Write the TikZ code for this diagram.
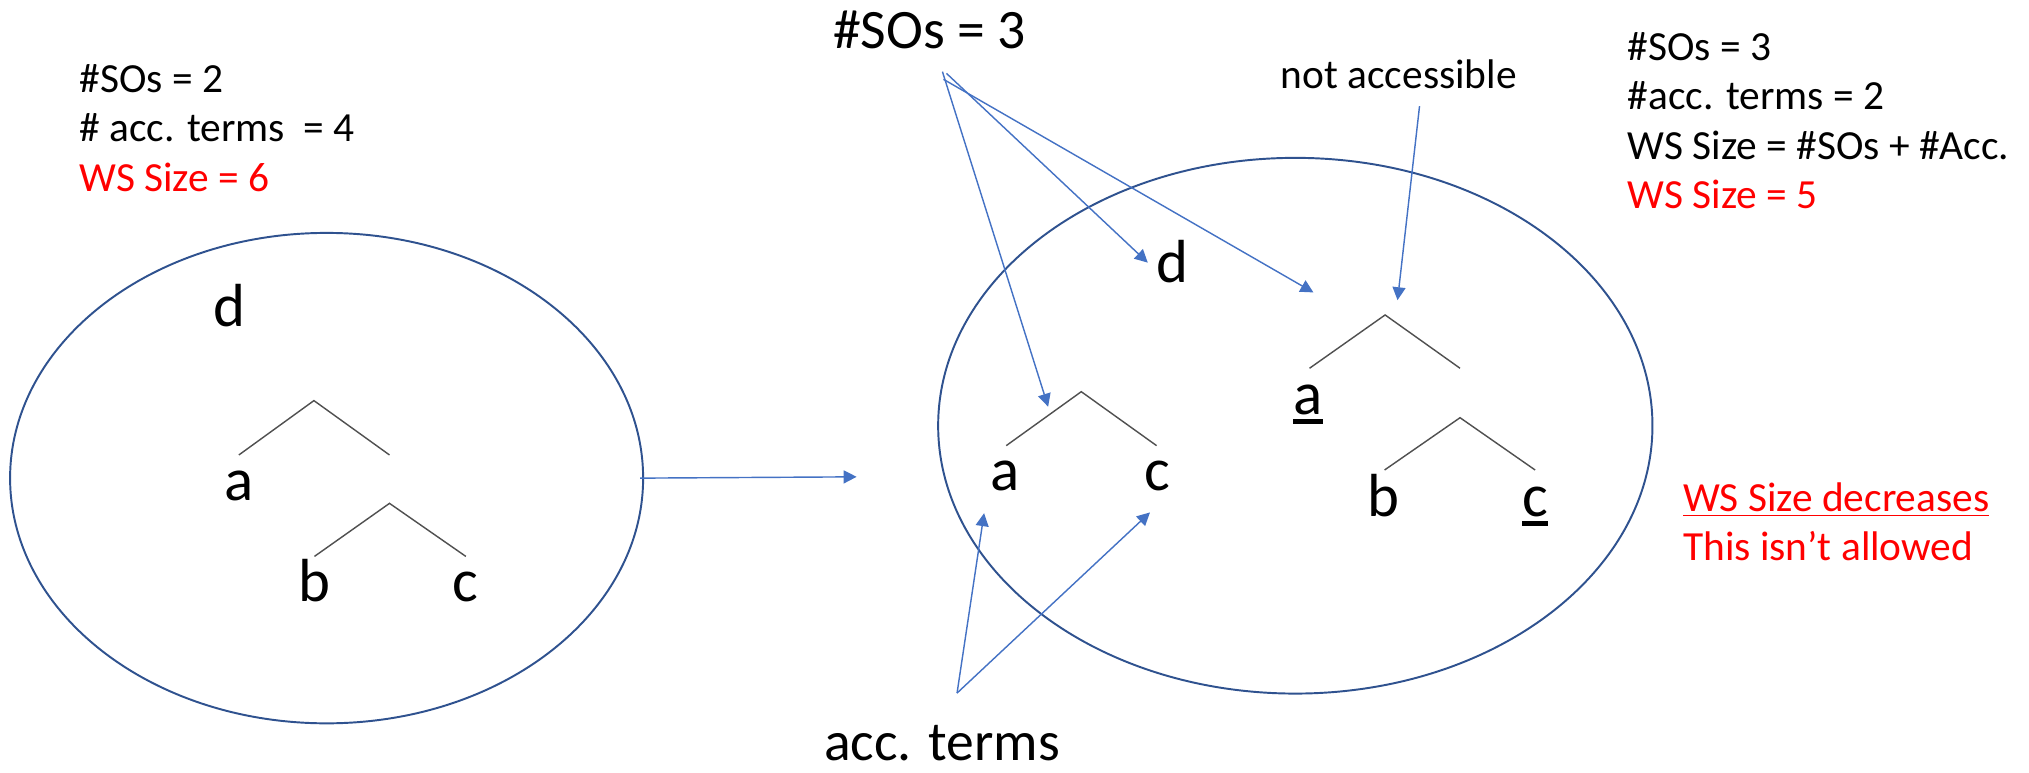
\documentclass[tikz,border=0pt]{standalone}
\usepackage{fontspec}
\setmainfont{Carlito}
\usetikzlibrary{arrows.meta,shapes.geometric}
\definecolor{ellblue}{HTML}{2F528F}
\definecolor{arrblue}{HTML}{4472C4}
\definecolor{treegray}{HTML}{505050}
\definecolor{wsred}{HTML}{FF0000}
\newcommand\thickul[1]{\setbox0\hbox{#1}\rlap{\rule[-0.16em]{\wd0}{0.085em}}\box0}
\begin{document}
\begin{tikzpicture}[x=0.5pt,y=-0.5pt,
  small/.style={font=\fontsize{16pt}{19pt}\selectfont, inner sep=0pt, anchor=base west},
  big/.style={font=\fontsize{21.5pt}{26pt}\selectfont, inner sep=0pt, anchor=base},
  letter/.style={font=\fontsize{23.5pt}{28pt}\selectfont, inner sep=0pt, anchor=base},
  wsell/.style={ellipse, draw=ellblue, line width=0.75pt, inner sep=0pt},
  branch/.style={draw=treegray, line width=0.55pt},
  arr/.style={draw=arrblue, line width=0.55pt, -{Triangle[length=5pt,width=5pt]}}]
\useasboundingbox (0,0) rectangle (1568,597);

% ---------- left working space ----------
\node[small] (l1) at (61,71.6) {\#SOs = 2};
\node[small] (l2) at (61,109.5) {\# acc. terms\ \ = 4};
\node[small, text=wsred] (l3) at (61,148) {WS Size = 6};

\node[wsell, minimum width=244.6pt, minimum height=189.5pt] (ellL) at (252.4,369.5) {};
\node[letter] (dL) at (177,252) {d};
\draw[branch] (184.6,351.6) -- (242.6,309.6) -- (301,351.6);
\node[letter] (aL) at (184.6,387) {a};
\draw[branch] (243,430) -- (301,389) -- (360,430);
\node[letter] (bL) at (243,465) {b};
\node[letter] (cL) at (360,465) {c};

% ---------- transition arrow ----------
\coordinate (mid) at (662,368.5);
\draw[arr] ([xshift=-1.5pt]ellL.east) -- (mid);

% ---------- right working space ----------
\node[wsell, minimum width=276pt, minimum height=207pt] (ellR) at (1001,329) {};
\node[letter] (dR) at (906,218) {d};
\draw[branch] (777.6,344.4) -- (835.6,302.7) -- (893.8,344.4);
\node[letter] (aR) at (776.4,379) {a};
\node[letter] (cR) at (894.7,379) {c};
\draw[branch] (1012,284.6) -- (1070.4,243.4) -- (1128.3,284.6);
\node[letter] (auR) at (1010.8,320) {\thickul{a}};
\draw[branch] (1070,363.2) -- (1128.3,322.8) -- (1186.3,363.2);
\node[letter] (bR) at (1069.3,399) {b};
\node[letter] (cuR) at (1186.3,399) {\thickul{c}};

% ---------- labels ----------
\node[big] (sos) at (718.5,37.4) {\#SOs = 3};
\node[big] (acc) at (728,587.5) {acc. terms};
\node[small, anchor=base] (na) at (1081,68.3) {not accessible};

\node[small] (r1) at (1257.6,46.9) {\#SOs = 3};
\node[small] (r2) at (1257.6,84.5) {\#acc. terms = 2};
\node[small] (r3) at (1257.6,123.1) {WS Size = \#SOs + \#Acc.};
\node[small, text=wsred] (r4) at (1257.6,161) {WS Size = 5};

\node[small, text=wsred] (dec) at (1300.4,395.4) {\underline{WS Size decreases}};
\node[small, text=wsred] (allow) at (1300.4,432.8) {This isn’t allowed};

% ---------- arrows ----------
\coordinate (s1) at (728.3,55.4);
\coordinate (s2) at (731.4,56.7);
\coordinate (s3) at (729.1,61.3);
\coordinate (t1) at (810,314.3);
\coordinate (t2) at (887,203);
\coordinate (t3) at (1015,226);
\draw[arr] (s1) -- (t1);
\draw[arr] (s2) -- (t2);
\draw[arr] (s3) -- (t3);

\coordinate (ns) at (1097,82);
\coordinate (nt) at (1080,232);
\draw[arr] (ns) -- (nt);

\coordinate (as) at (739.6,535.6);
\coordinate (at1) at (760.5,396.6);
\coordinate (at2) at (888.7,396);
\draw[arr] (as) -- (at1);
\draw[arr] (as) -- (at2);
\end{tikzpicture}
\end{document}
